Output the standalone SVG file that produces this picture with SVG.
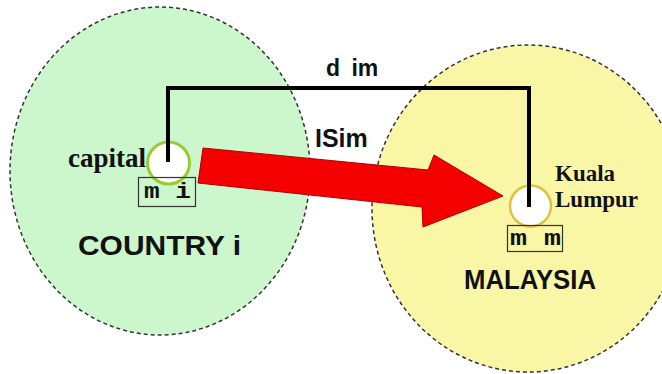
<svg xmlns="http://www.w3.org/2000/svg" width="662" height="374" viewBox="0 0 662 374">
<style>
.region{stroke:#333;stroke-width:1.5;stroke-dasharray:4 3}
.sans{font-family:"Liberation Sans",Arial,sans-serif;font-weight:bold;fill:#111}
.serif{font-family:"Liberation Serif","Times New Roman",serif;font-weight:bold;fill:#111}
.mono{font-family:"Liberation Mono","Courier New",monospace;font-weight:bold;fill:#111}
.box{fill:none;stroke:#333;stroke-width:1.2}
.link{fill:none;stroke:#000;stroke-width:4;stroke-linejoin:miter}
</style>
<rect width="662" height="374" fill="#fff"/>
<g id="country-i">
<ellipse class="region" cx="160" cy="171" rx="150" ry="164" fill="#ccf6cc"/>
<text class="sans" x="78" y="255" font-size="28" textLength="163" lengthAdjust="spacingAndGlyphs">COUNTRY i</text>
</g>
<g id="malaysia">
<ellipse class="region" cx="528" cy="208.5" rx="156" ry="163.5" fill="#f9f7a6"/>
<text class="sans" x="464" y="289" font-size="27" textLength="132" lengthAdjust="spacingAndGlyphs">MALAYSIA</text>
</g>
<g id="connectors">
<polyline class="link" points="168,162 168,88 529,88 529,207"/>
<polygon points="203,148 428,170 434,155 503,196 423,227 422,207 198,183" fill="#f40000" stroke="#b00000" stroke-width="1"/>
<text class="sans" x="326" y="76" font-size="23" word-spacing="5">d im</text>
<text class="sans" x="315" y="147" font-size="25">ISim</text>
</g>
<g id="capital-i">
<circle cx="168.5" cy="163" r="21" fill="#fff" stroke="#9dc832" stroke-width="3"/>
<line x1="168" y1="140" x2="168" y2="162" stroke="#000" stroke-width="4"/>
<text class="serif" x="68" y="167" font-size="27" textLength="78" lengthAdjust="spacingAndGlyphs">capital</text>
<rect class="box" x="138.5" y="177.5" width="57" height="29"/>
<text class="mono" x="144" y="198" font-size="22" textLength="47" lengthAdjust="spacingAndGlyphs">m i</text>
</g>
<g id="kuala-lumpur">
<circle cx="530.5" cy="206" r="20.5" fill="#fff" stroke="#e2c048" stroke-width="2.5"/>
<line x1="529" y1="180" x2="529" y2="207" stroke="#000" stroke-width="4"/>
<text class="serif" x="555" y="181" font-size="23">Kuala</text>
<text class="serif" x="555" y="207" font-size="23">Lumpur</text>
<rect class="box" x="507.5" y="225.5" width="55" height="26"/>
<text class="mono" x="510" y="245" font-size="22" textLength="51" lengthAdjust="spacingAndGlyphs">m m</text>
</g>
</svg>
